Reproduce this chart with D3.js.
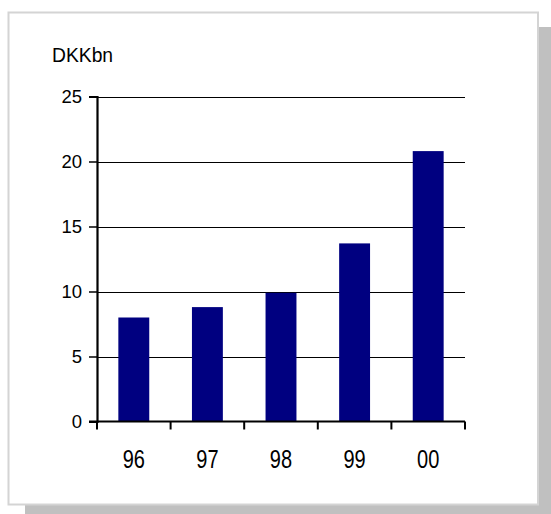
<!DOCTYPE html>
<html>
<head>
<meta charset="utf-8">
<script src="https://cdn.jsdelivr.net/npm/d3@7"></script>
<style>
  html, body { margin: 0; padding: 0; background: #fff; }
  svg { display: block; }
  text { font-family: "Liberation Sans", Arial, sans-serif; fill: #000; }
</style>
</head>
<body>
<svg id="chart" width="551" height="514"></svg>
<script>
const categories = ["96", "97", "98", "99", "00"];
const values = [8.0, 8.8, 9.9, 13.7, 20.8];
const yTicks = [0, 5, 10, 15, 20, 25];
const unitLabel = "DKKbn";

(function () {
const svg = d3.select("#chart");
const W = 551, H = 514;

// frame with drop shadow
svg.append("rect").attr("x", 25).attr("y", 27).attr("width", W - 25).attr("height", H - 27)
  .attr("fill", "#c0c0c0");
svg.append("rect").attr("x", 8.5).attr("y", 12.5).attr("width", 529.5).attr("height", 492)
  .attr("fill", "#fff").attr("stroke", "#d4d4d4").attr("stroke-width", 2);

const pLeft = 97, pRight = 465, pTop = 96.5, pBottom = 421.5;

const x = d3.scaleBand().domain(categories).range([pLeft, pRight])
  .paddingInner(0.58).paddingOuter(0.29);
const xStep = d3.scaleBand().domain(categories).range([pLeft, pRight]).padding(0);
const y = d3.scaleLinear().domain([0, 25]).range([pBottom, pTop]);

// gridlines
svg.append("g").selectAll("line").data(yTicks.filter(d => d > 0)).join("line")
  .attr("x1", pLeft).attr("x2", pRight)
  .attr("y1", d => Math.round(y(d)) + 0.5).attr("y2", d => Math.round(y(d)) + 0.5)
  .attr("stroke", "#000").attr("stroke-width", 1.2);

// bars
svg.append("g").selectAll("rect").data(values).join("rect")
  .attr("x", (d, i) => x(categories[i]))
  .attr("width", x.bandwidth())
  .attr("y", d => y(d))
  .attr("height", d => y(0) - y(d))
  .attr("fill", "#000080");

// y axis
const yAxis = d3.axisLeft(y).tickValues(yTicks).tickSize(8).tickPadding(7);
const gy = svg.append("g").attr("transform", `translate(${pLeft},0)`).call(yAxis);
gy.select(".domain").attr("stroke", "#000").attr("stroke-width", 2.2);
gy.selectAll(".tick line").attr("stroke", "#000").attr("stroke-width", 1.5);
gy.selectAll(".tick text").attr("font-size", "18.5px").attr("font-family", "Liberation Sans, Arial, sans-serif").attr("fill", "#000");

// x axis
const gx = svg.append("g").attr("transform", `translate(0,${pBottom})`);
gx.append("line").attr("x1", pLeft - 8).attr("x2", pRight).attr("y1", 0).attr("y2", 0)
  .attr("stroke", "#000").attr("stroke-width", 2.2);
const edges = categories.map(c => xStep(c)).concat([pRight]);
gx.selectAll("line.tick").data(edges).join("line").attr("class", "tick")
  .attr("x1", d => d).attr("x2", d => d).attr("y1", 0).attr("y2", 8)
  .attr("stroke", "#000").attr("stroke-width", 2);
gx.selectAll("text").data(categories).join("text")
  .attr("transform", d => `translate(${xStep(d) + xStep.bandwidth() / 2},${468 - pBottom}) scale(1,1.28)`)
  .attr("text-anchor", "middle")
  .attr("font-size", "20px")
  .text(d => d);

// unit label
svg.append("text").attr("x", 52).attr("y", 61.7).attr("font-size", "19.3px").text(unitLabel);
})();
</script>
</body>
</html>
